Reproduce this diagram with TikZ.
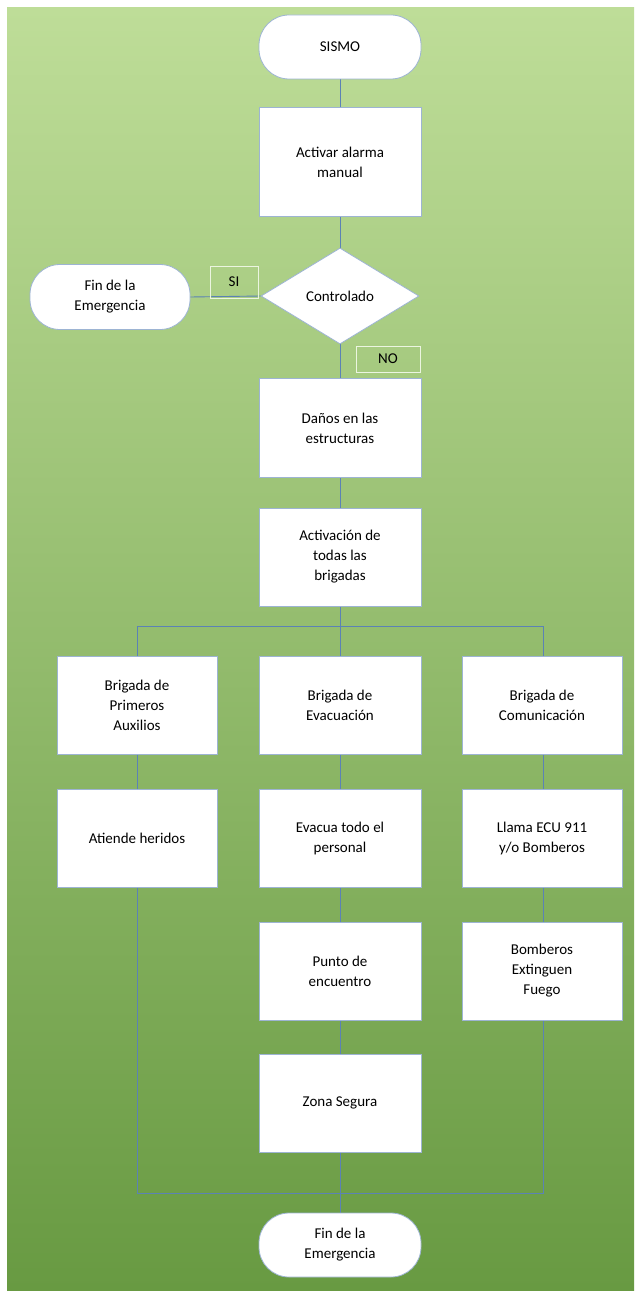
\documentclass[tikz,border=0pt]{standalone}
\usepackage{fontspec}
\setmainfont{Carlito}
\usetikzlibrary{shapes.geometric}
\definecolor{ln}{HTML}{5B82B5}
\definecolor{gtop}{HTML}{BEDD98}
\definecolor{gbot}{HTML}{689A42}
\tikzset{
  every node/.style={font=\fontsize{15}{20}\selectfont, align=center},
  box/.style={draw=ln!60, line width=0.8pt, fill=white, minimum width=162pt, minimum height=98pt, inner sep=2pt},
  term/.style={draw=ln!60, line width=0.8pt, fill=white, rounded corners=30pt, minimum width=162pt, minimum height=64pt},
  dec/.style={draw=ln!60, line width=0.8pt, fill=white, diamond, aspect=1.65, minimum width=158pt, minimum height=96pt, inner sep=0pt},
  lab/.style={draw=white!70!gtop, line width=0.6pt, minimum width=48pt, minimum height=32pt, inner sep=1pt},
  conn/.style={draw=ln, line width=0.9pt}
}
\begin{document}
\begin{tikzpicture}[x=1pt,y=-1pt]
\useasboundingbox (0,0) rectangle (640,1300);
\fill[white] (0,0) rectangle (640,1300);
\shade[top color=gtop, bottom color=gbot] (7,8) rectangle (634,1290);
% connector lines first
\coordinate (bl) at (137,626); \coordinate (br) at (543,626); \coordinate (bm) at (340,626);
\coordinate (ml) at (137,1193); \coordinate (mr) at (543,1193); \coordinate (mm) at (340,1193);
\draw[conn] (bl) -- (br);
\draw[conn] (bl) -- (ml) -- (mr) -- (br);
\draw[conn] (340,47) -- (340,1245);
\node[term] (sismo) at (340,47) {SISMO};
\node[box, minimum height=109pt] (act) at (340,162) {Activar alarma\\manual};
\node[term, minimum width=160pt, minimum height=65pt] (finl) at (110,297) {Fin de la\\Emergencia};
\node[dec] (ctrl) at (340,296) {Controlado};
\draw[conn] (finl.east) -- (ctrl.west);
\node[lab] (si) at (234,282) {SI};
\node[lab, minimum width=64pt, minimum height=26pt] (no) at (388,359) {NO};
\node[box, minimum height=99pt] (danos) at (340,428) {Daños en las\\estructuras};
\node[box] (activ) at (340,557) {Activación de\\todas las\\brigadas};
\node[box, minimum width=160pt] (b1) at (137,705) {Brigada de\\Primeros\\Auxilios};
\node[box] (b2) at (340,705) {Brigada de\\Evacuación};
\node[box, minimum width=160pt] (b3) at (542,705) {Brigada de\\Comunicación};
\node[box, minimum width=160pt] (atiende) at (137,838) {Atiende heridos};
\node[box] (evacua) at (340,838) {Evacua todo el\\personal};
\node[box, minimum width=160pt] (llama) at (542,838) {Llama ECU 911\\y/o Bomberos};
\node[box] (punto) at (340,971) {Punto de\\encuentro};
\node[box, minimum width=160pt] (bomb) at (542,971) {Bomberos\\Extinguen\\Fuego};
\node[box] (zona) at (340,1103) {Zona Segura};
\node[term, minimum height=64pt] (finb) at (340,1245) {Fin de la\\Emergencia};
\end{tikzpicture}
\end{document}
